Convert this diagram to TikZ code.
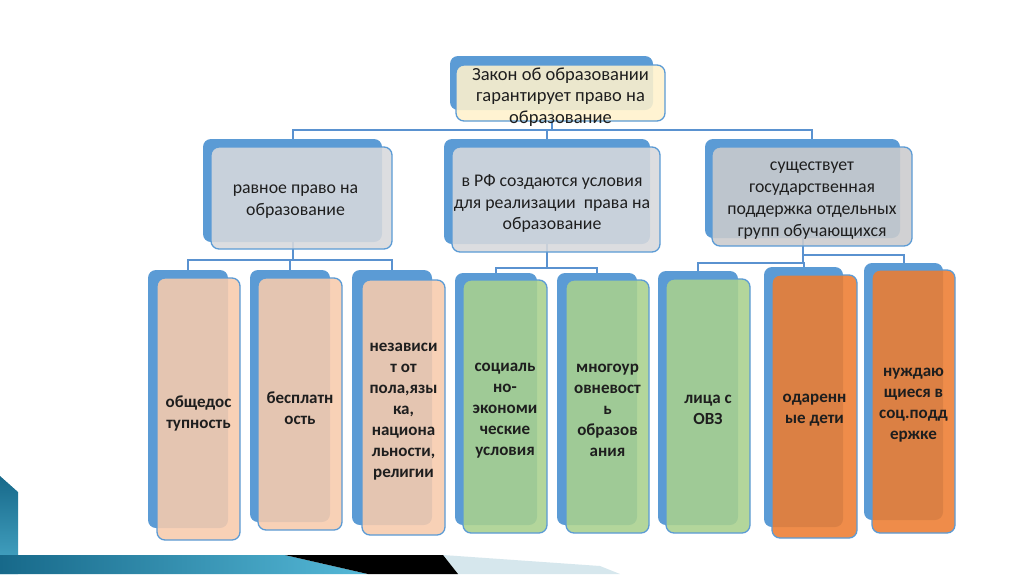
\documentclass[tikz,border=0pt]{standalone}
\usepackage{fontspec}
\setmainfont{Carlito}
\usetikzlibrary{positioning,
                backgrounds}               % connectors behind the boxes

\definecolor{backblue}{HTML}{5B9BD5}
\definecolor{lineblue}{HTML}{5A92D0}
\definecolor{creamfill}{HTML}{FFF2CC}
\definecolor{grayfill}{HTML}{D8D9DC}
\definecolor{darkgrayfill}{HTML}{CBCBCD}
\definecolor{peachfill}{HTML}{F8CBAD}
\definecolor{greenfill}{HTML}{A9D18E}
\definecolor{orangefill}{HTML}{ED7D31}
\definecolor{tealdark}{HTML}{17698A}
\definecolor{teallight}{HTML}{55B9D8}
\definecolor{palegray}{HTML}{D6E7ED}
\definecolor{inkblack}{HTML}{1E1E1E}

\tikzset{
  backbox/.style={rectangle, rounded corners=8pt, fill=backblue, inner sep=0pt},
  frontbox/.style={rectangle, rounded corners=8pt, draw=backblue, line width=1.3pt,
                   fill opacity=0.88, inner sep=0pt},
  boxtext/.style={align=center, inner sep=0pt, text=inkblack, yshift=-4pt},
  toptext/.style={boxtext, font=\fontsize{18.5}{21.5}\selectfont},
  midtext/.style={boxtext, font=\fontsize{17.8}{21.8}\selectfont},
  leaftext/.style={boxtext, font=\fontsize{17}{21}\selectfont\bfseries},
  link/.style={draw=lineblue, line width=2pt},
}

\begin{document}
\begin{tikzpicture}[x=1pt, y=-1pt]
      \useasboundingbox (0,0) rectangle (1024,574);

      % top level
      \node[backbox, minimum width=203, minimum height=54] (topb) at (551.5,83) {};
      \node[frontbox, fill=creamfill, minimum width=209, minimum height=56] (top) at (560.5,93) {};
      \node[toptext] (topt) at (top) {Закон об образовании\\гарантирует право на\\образование};

      % second level
      \node[backbox, minimum width=179, minimum height=103] (midLb) at (292.5,190.5) {};
      \node[frontbox, fill=grayfill, minimum width=181, minimum height=102] (midL) at (301.5,198) {};
      \node[midtext, xshift=-6pt] (midLt) at (midL) {равное право на\\образование};
      \node[backbox, minimum width=206, minimum height=105] (midCb) at (547,191.5) {};
      \node[frontbox, fill=grayfill, minimum width=208, minimum height=105] (midC) at (556,199.5) {};
      \node[midtext, xshift=-4pt] (midCt) at (midC) {в РФ создаются условия\\для реализации\ \ права на\\образование};
      \node[backbox, minimum width=195, minimum height=99] (midRb) at (802.5,188.5) {};
      \node[frontbox, fill=darkgrayfill, minimum width=200, minimum height=99] (midR) at (812,196.5) {};
      \node[midtext] (midRt) at (midR) {существует\\государственная\\поддержка отдельных\\групп обучающихся};

      % third level
      \node[backbox, minimum width=80, minimum height=258] (l1b) at (188,399) {};
      \node[frontbox, fill=peachfill, minimum width=83, minimum height=262] (l1) at (198.5,409) {};
      \node[leaftext] (l1t) at (l1) {общедос\\тупность};
      \node[backbox, minimum width=80, minimum height=252] (l2b) at (290,396) {};
      \node[frontbox, fill=peachfill, minimum width=84, minimum height=252] (l2) at (300,404) {};
      \node[leaftext] (l2t) at (l2) {бесплатн\\ость};
      \node[backbox, minimum width=80, minimum height=255] (l3b) at (392,397.5) {};
      \node[frontbox, fill=peachfill, minimum width=83, minimum height=255] (l3) at (403.5,407.5) {};
      \node[leaftext] (l3t) at (l3) {независи\\т от\\пола,язы\\ка,\\национа\\льности,\\религии};

      \node[backbox, minimum width=82, minimum height=252] (l4b) at (496,399) {};
      \node[frontbox, fill=greenfill, minimum width=84, minimum height=253] (l4) at (505,406.5) {};
      \node[leaftext] (l4t) at (l4) {социаль\\но-\\экономи\\ческие\\условия};
      \node[backbox, minimum width=80, minimum height=252] (l5b) at (597,399) {};
      \node[frontbox, fill=greenfill, minimum width=83, minimum height=253] (l5) at (607.5,406.5) {};
      \node[leaftext] (l5t) at (l5) {многоур\\овневост\\ь\\образов\\ания};
      \node[backbox, minimum width=80, minimum height=254] (l6b) at (698,398) {};
      \node[frontbox, fill=greenfill, minimum width=84, minimum height=254] (l6) at (708,406) {};
      \node[leaftext] (l6t) at (l6) {лица с\\ОВЗ};

      \node[backbox, minimum width=79, minimum height=260] (l7b) at (803.5,397) {};
      \node[frontbox, fill=orangefill, minimum width=85, minimum height=263] (l7) at (814.5,406.5) {};
      \node[leaftext] (l7t) at (l7) {одаренн\\ые дети};
      \node[backbox, minimum width=79, minimum height=257] (l8b) at (903.5,391.5) {};
      \node[frontbox, fill=orangefill, minimum width=83, minimum height=263] (l8) at (913.5,401.5) {};
      \node[leaftext] (l8t) at (l8) {нуждаю\\щиеся в\\соц.подд\\ержке};

      % connectors
      \begin{scope}[on background layer]
        \fill[white] (0,0) rectangle (1024,574);

        \coordinate (tj) at ([yshift=-20pt]topb.south);
        \draw[link] (topb.south) -- (tj);
        \draw[link] (tj) -| (midLb.north);
        \draw[link] (tj) -| (midCb.north);
        \draw[link] (tj) -| (midR.north);

        \coordinate (lj) at ([yshift=-18pt]midLb.south);
        \draw[link] (midLb.south) -- (lj);
        \draw[link] (lj) -| (l1b.north);
        \draw[link] (lj) -| (l2b.north);
        \draw[link] (lj) -| (l3b.north);

        \coordinate (cj) at ([yshift=-24pt]midCb.south);
        \draw[link] (midCb.south) -- (cj);
        \draw[link] (cj) -| (l4b.north);
        \draw[link] (cj) -| (l5b.north);

        \coordinate (rj) at ([yshift=-17pt]midRb.south);
        \coordinate (rk) at ([yshift=-25pt]midRb.south);
        \draw[link] (midRb.south) -- (rk);
        \draw[link] (rj) -| (l8b.north);
        \draw[link] (rk) -| (l6b.north);
        \draw[link] (rk) -| (l7b.north);
      \end{scope}

      % corner decoration
      \shade[top color=tealdark, bottom color=teallight!80!tealdark] (0,476) -- (18,492) -- (18,574) -- (0,574) -- cycle;
      \shade[left color=tealdark, right color=teallight] (0,555) -- (285,555) -- (368,574) -- (0,574) -- cycle;
      \fill[palegray] (443,555) -- (600,566) -- (620,574) -- (458,574) -- cycle;
      \fill[black] (285,555) -- (443,555) -- (458,574) -- (368,574) -- cycle;
\end{tikzpicture}
\end{document}
